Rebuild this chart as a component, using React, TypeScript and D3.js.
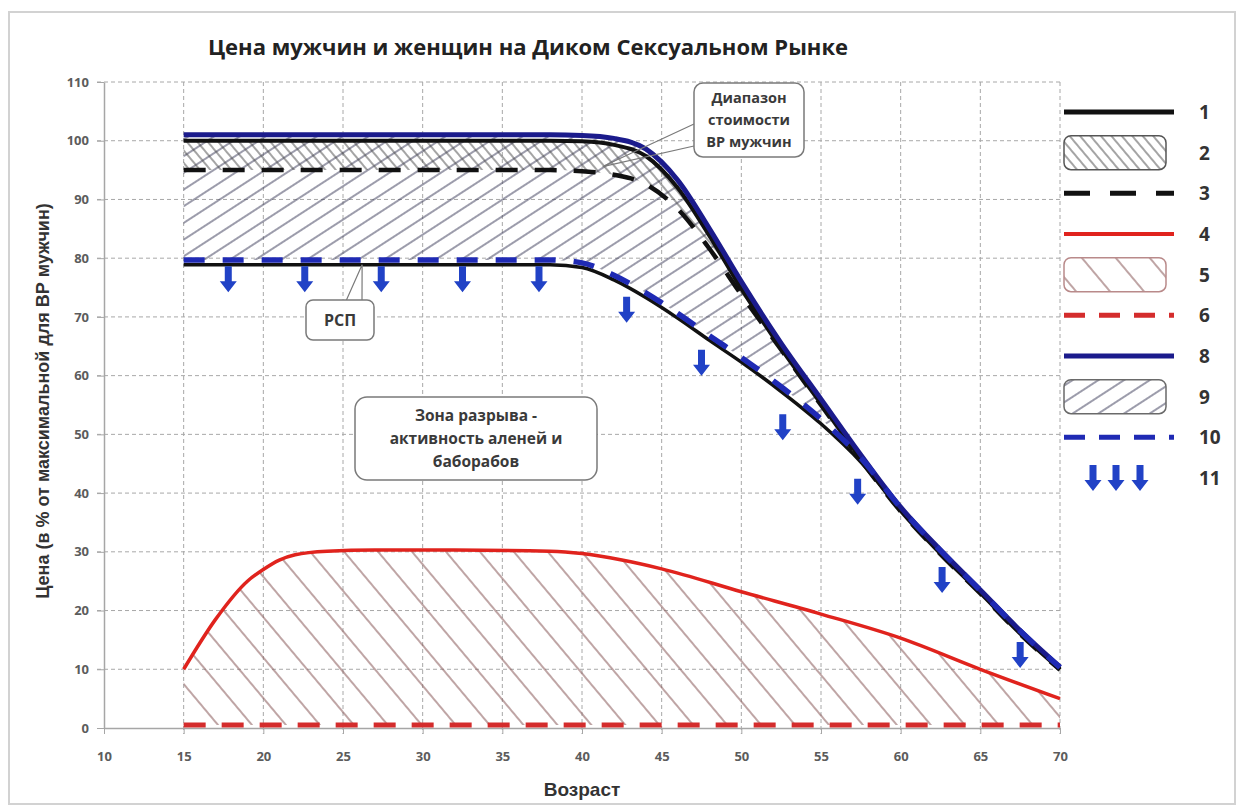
import React, { useEffect, useRef } from "react";
import * as d3 from "d3";

// ages shared by the male curves
const ageGrid = [15, 20, 25, 30, 35, 38, 40, 42, 44, 46, 48, 50, 52.5, 55, 57.5, 60, 62.5, 65, 67.5, 70];
// 8 - blue solid, upper
const blueTop = [101, 101, 101, 101, 101, 101, 100.9, 100.4, 98.6, 93.3, 85, 76, 65.5, 56, 46.5, 37.6, 30.3, 23.5, 16.6, 10.4];
// 1 - black solid, upper
const blackTop = [100, 100, 100, 100, 100, 100, 99.9, 99.3, 97.4, 92, 83.8, 74.8, 64.6, 55.2, 45.8, 37, 29.7, 23, 16.1, 10];
// 3 - black dashed
const blackDashed = [95, 95, 95, 95, 95, 95, 94.8, 94.2, 92.6, 88.4, 81.6, 73.8, 64.4, 55, 45.6, 36.9, 29.6, 22.9, 16, 9.9];
// 1 - black solid, lower (РСП)
const blackLow = [78.9, 78.9, 78.9, 78.9, 78.9, 78.9, 78.4, 76.3, 73.3, 69.8, 66, 62.3, 57.3, 51.8, 45.3, 37.2, 29.9, 23.1, 16.2, 10.1];
// 10 - blue dashed
const blueDashed = [79.7, 79.7, 79.7, 79.7, 79.7, 79.7, 79.2, 77.1, 74.1, 70.6, 66.8, 63.1, 58.1, 52.6, 46, 37.5, 30.2, 23.4, 16.5, 10.3];

// 4 - red solid (women)
const redAges = [15, 17, 19, 20, 21, 22, 24, 27, 32, 38, 40, 42.5, 45, 50, 55, 60, 65, 70];
const redValues = [10, 18.5, 25, 27, 28.6, 29.5, 30.1, 30.3, 30.3, 30.1, 29.7, 28.6, 27.1, 23.2, 19.4, 15.3, 10, 5];
// 6 - red dashed
const redDashAges = [15, 70];
const redDashValues = [0.5, 0.5];

// 11 - arrows (age, value of the arrow tip)
const arrowAges = [17.8, 22.6, 27.4, 32.5, 37.3, 42.8, 47.5, 52.6, 57.3, 62.6, 67.5];
const arrowTips = [74.2, 74.2, 74.2, 74.2, 74.2, 69, 60, 49, 38, 23, 10.2];

const xTicks = d3.range(10, 71, 5);
const yTicks = d3.range(0, 111, 10);
const legendLabels = ["1", "2", "3", "4", "5", "6", "8", "9", "10", "11"];

const title = "Цена мужчин и женщин на Диком Сексуальном Рынке";
const xTitle = "Возраст";
const yTitle = "Цена (в % от максимальной для ВР мужчин)";
const rangeNote = ["Диапазон", "стоимости", "ВР мужчин"];
const rspNote = ["РСП"];
const gapNote = ["Зона разрыва -", "активность аленей и", "баборабов"];

const BLUE = "#1b1b8c";
const BLUE_DASH = "#1f2ab4";
const ARROW = "#2142c6";
const RED = "#e0231d";
const RED_DASH = "#d42c2c";
const OPEN = "'Open Sans', 'DejaVu Sans', sans-serif";
const ARIAL = "'Liberation Sans', Arial, sans-serif";

export default function App() {
  const ref = useRef<SVGSVGElement>(null);

  useEffect(() => {
    const svg = d3.select(ref.current);
    svg.selectAll("*").remove();

    const x = d3.scaleLinear().domain([10, 70]).range([104, 1060]);
    const y = d3.scaleLinear().domain([0, 110]).range([728, 82]);

    const defs = svg.append("defs");
    const hatch = (id: string, gap: number, angle: number, color: string, w: number) => {
      const p = defs.append("pattern").attr("id", id).attr("patternUnits", "userSpaceOnUse")
        .attr("width", 20).attr("height", gap).attr("patternTransform", `rotate(${angle})`);
      p.append("line").attr("x1", 0).attr("x2", 20).attr("y1", gap / 2).attr("y2", gap / 2)
        .attr("stroke", color).attr("stroke-width", w);
    };
    hatch("h2", 8, 50, "#4a4a4a", 1);
    hatch("h9", 14, -33, "#3a3a58", 1);
    hatch("h5", 26, 50, "#8a5a5a", 1.1);

    // frame
    svg.append("rect").attr("x", 9).attr("y", 12).attr("width", 1226).attr("height", 792)
      .attr("fill", "white").attr("stroke", "#d2d2d2").attr("stroke-width", 2);

    svg.append("text").attr("x", 528).attr("y", 55).attr("text-anchor", "middle")
      .attr("font-family", OPEN).attr("font-weight", "bold").attr("font-size", 22)
      .attr("fill", "#222").text(title);

    // grid
    const grid = svg.append("g").attr("stroke", "#a8a8a8").attr("stroke-width", 1).attr("stroke-dasharray", "4 3");
    grid.selectAll(".gy").data(yTicks.filter(d => d > 0)).join("line")
      .attr("x1", 97).attr("x2", 1060).attr("y1", d => y(d)).attr("y2", d => y(d));
    grid.selectAll(".gx").data(xTicks.filter(d => d > 10)).join("line")
      .attr("x1", d => x(d)).attr("x2", d => x(d)).attr("y1", 82).attr("y2", 734);

    // axes
    const yAxis = svg.append("g").attr("transform", "translate(104,0)")
      .call(d3.axisLeft(y).tickValues(yTicks).tickSize(7).tickSizeOuter(0).tickPadding(8));
    const xAxis = svg.append("g").attr("transform", "translate(0,728)")
      .call(d3.axisBottom(x).tickValues(xTicks).tickSize(6).tickSizeOuter(0).tickPadding(18));
    [yAxis, xAxis].forEach(g => {
      g.select(".domain").attr("stroke", "#a6a6a6").attr("stroke-width", 1.5);
      g.selectAll(".tick line").attr("stroke", "#a6a6a6");
      g.selectAll("text").attr("font-family", OPEN).attr("font-weight", "bold")
        .attr("font-size", 13).attr("fill", "#5c5c5c");
    });

    svg.append("text").attr("x", 582).attr("y", 796).attr("text-anchor", "middle")
      .attr("font-family", ARIAL).attr("font-weight", "bold").attr("font-size", 19)
      .attr("fill", "#333").text(xTitle);
    svg.append("text").attr("transform", "translate(49,401) rotate(-90)").attr("text-anchor", "middle")
      .attr("font-family", ARIAL).attr("font-weight", "bold").attr("font-size", 18)
      .attr("fill", "#333").text(yTitle);

    const curve = d3.curveMonotoneX;
    const line = d3.line<[number, number]>().x(d => x(d[0])).y(d => y(d[1])).curve(curve);
    const pts = (ages: number[], vals: number[]) => ages.map((a, i) => [a, vals[i]] as [number, number]);
    const band = (top: [number, number][], bottom: [number, number][]) =>
      line(top) + (line(bottom.slice().reverse()) as string).replace(/^M/, "L") + "Z";

    const pBlueTop = pts(ageGrid, blueTop);
    const pBlackTop = pts(ageGrid, blackTop);
    const pBlackDash = pts(ageGrid, blackDashed);
    const pBlackLow = pts(ageGrid, blackLow);
    const pBlueDash = pts(ageGrid, blueDashed);
    const pRed = pts(redAges, redValues);
    const pRedDash = pts(redDashAges, redDashValues);

    // hatched zones
    svg.append("path").attr("d", band(pRed, pRedDash)).attr("fill", "url(#h5)");
    svg.append("path").attr("d", band(pBlueTop, pBlueDash)).attr("fill", "url(#h9)");
    svg.append("path").attr("d", band(pBlackTop, pBlackDash)).attr("fill", "url(#h2)");

    const drawLine = (p: [number, number][], color: string, w: number, dash?: string) => {
      const el = svg.append("path").attr("d", line(p)).attr("fill", "none")
        .attr("stroke", color).attr("stroke-width", w).attr("stroke-linejoin", "round");
      if (dash) el.attr("stroke-dasharray", dash);
    };
    drawLine(pRedDash, RED_DASH, 5, "22 16");
    drawLine(pRed, RED, 3.5);
    drawLine(pBlackDash, "#111", 4.5, "22 17");
    drawLine(pBlackTop, "#111", 4);
    drawLine(pBlackLow, "#111", 3.5);
    drawLine(pBlueTop, BLUE, 5);
    drawLine(pBlueDash, BLUE_DASH, 5.5, "21 18");

    const arrowPath = (cx: number, ty: number) =>
      `M${cx - 3.5},${ty - 26}L${cx + 3.5},${ty - 26}L${cx + 3.5},${ty - 11}L${cx + 8.5},${ty - 11}` +
      `L${cx},${ty}L${cx - 8.5},${ty - 11}L${cx - 3.5},${ty - 11}Z`;
    svg.selectAll(".arrow").data(arrowAges).join("path").attr("class", "arrow")
      .attr("d", (a, i) => arrowPath(x(a), y(arrowTips[i]))).attr("fill", ARROW);

    // callouts
    const note = (bx: number, by: number, bw: number, bh: number, rx: number, lines: string[],
      size: number, gap: number, pointer?: [number, number][], pointerFill = "none") => {
      if (pointer) {
        svg.append("path").attr("d", d3.line()(pointer)).attr("fill", pointerFill)
          .attr("stroke", "#7a7a7a").attr("stroke-width", 1.2);
      }
      svg.append("rect").attr("x", bx).attr("y", by).attr("width", bw).attr("height", bh).attr("rx", rx)
        .attr("fill", "white").attr("stroke", "#7a7a7a").attr("stroke-width", 1.5);
      const cy = by + bh / 2 - ((lines.length - 1) * gap) / 2;
      lines.forEach((t, i) => {
        svg.append("text").attr("x", bx + bw / 2).attr("y", cy + i * gap).attr("dy", "0.35em")
          .attr("text-anchor", "middle").attr("font-family", OPEN).attr("font-weight", "bold")
          .attr("font-size", size).attr("fill", "#3a3a3a").text(t);
      });
    };
    note(694, 83, 110, 74, 9, rangeNote, 14.5, 22,
      [[694, 124], [x(41.3), y(95.6)], [694, 146]]);
    note(306, 300, 68, 40, 7, rspNote, 16, 0,
      [[346, 301], [x(26.2), y(78.9)], [362, 301]], "white");
    note(355, 397, 242, 83, 12, gapNote, 15.5, 23);

    // legend
    const ly = d3.scalePoint<string>().domain(legendLabels).range([112, 478]);
    const lg = svg.append("g");
    const lx0 = 1064, lx1 = 1174;
    const lline = (k: string, color: string, w: number, dash?: string) => {
      const el = lg.append("line").attr("x1", lx0).attr("x2", lx1).attr("y1", ly(k)!).attr("y2", ly(k)!)
        .attr("stroke", color).attr("stroke-width", w);
      if (dash) el.attr("stroke-dasharray", dash);
    };
    const lbox = (k: string, fill: string, stroke: string) => {
      lg.append("rect").attr("x", lx0).attr("y", ly(k)! - 17).attr("width", 102).attr("height", 34)
        .attr("rx", 7).attr("fill", fill).attr("stroke", stroke).attr("stroke-width", 1.5);
    };
    lline("1", "#111", 5);
    lbox("2", "url(#h2)", "#555");
    lline("3", "#111", 5, "26 20");
    lline("4", RED, 4);
    lbox("5", "url(#h5)", "#b98a8a");
    lline("6", RED_DASH, 5, "21 14");
    lline("8", BLUE, 5);
    lbox("9", "url(#h9)", "#6a6a6a");
    lline("10", BLUE_DASH, 5, "21 14");
    [1093, 1116, 1140].forEach(cx => {
      lg.append("path").attr("d", arrowPath(cx, ly("11")! + 13)).attr("fill", ARROW);
    });
    lg.selectAll(".ln").data(legendLabels).join("text")
      .attr("x", 1199).attr("y", d => ly(d)!).attr("dy", "0.36em")
      .attr("font-family", OPEN).attr("font-weight", "bold").attr("font-size", 19)
      .attr("fill", "#333").text(d => d);
  }, []);

  return (
    <svg ref={ref} width={1244} height={809}
      style={{ position: "absolute", left: 0, top: 0, background: "white" }} />
  );
}
